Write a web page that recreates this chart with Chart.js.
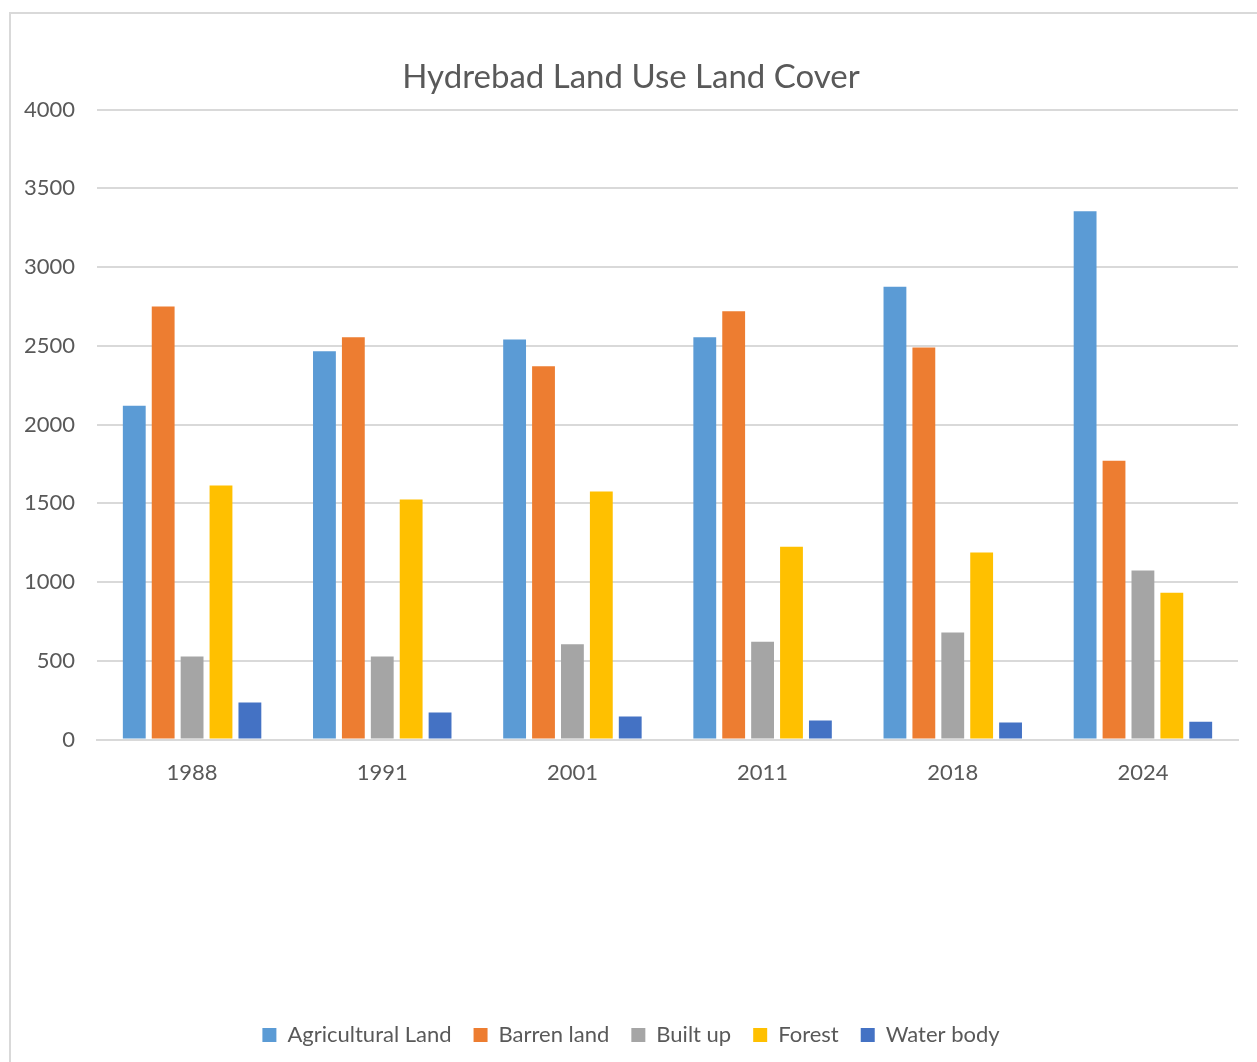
<!DOCTYPE html>
<html>
<head>
<meta charset="utf-8">
<script src="https://cdn.jsdelivr.net/npm/chart.js@4.4.1/dist/chart.umd.min.js"></script>
<style>
  body { margin: 0; background: #fff; }
  #frame {
    position: absolute; left: 9px; top: 12px;
    width: 1260px; height: 1060px;
    border: 2px solid #d9d9d9; box-sizing: border-box;
  }
  #wrap { position: absolute; left: 10px; top: 14px; width: 1247px; height: 1048px; }
</style>
</head>
<body>
<div id="frame"></div>
<div id="wrap"><canvas id="lulcChart"></canvas></div>
<script>
// Years (categories)
const years = ['1988', '1991', '2001', '2011', '2018', '2024'];

// Area per class
const agricultural = [2120, 2465, 2540, 2555, 2875, 3355];
const barren = [2750, 2555, 2370, 2720, 2490, 1770];
const builtUp = [527, 527, 605, 622, 680, 1073];
const forest = [1613, 1525, 1575, 1225, 1188, 933];
const water = [235, 172, 147, 122, 108, 114];

const seriesNames = ['Agricultural Land', 'Barren land', 'Built up', 'Forest', 'Water body'];
const seriesColors = ['#5B9BD5', '#ED7D31', '#A5A5A5', '#FFC000', '#4472C4'];
const seriesValues = [agricultural, barren, builtUp, forest, water];

const textColor = '#595959';
const fontFamily = 'Lato, "Open Sans", sans-serif';

const datasets = seriesNames.map((name, i) => ({
    label: name,
    data: seriesValues[i],
    backgroundColor: seriesColors[i],
    borderWidth: 0,
    categoryPercentage: 0.76,
    barPercentage: 0.79,
}));

const ctx = document.getElementById('lulcChart').getContext('2d');
new Chart(ctx, {
    type: 'bar',
    data: { labels: years, datasets: datasets },
    options: {
        responsive: true,
        maintainAspectRatio: false,
        animation: false,
        layout: { padding: { left: 14, right: 19, top: 0, bottom: 6 } },
        plugins: {
            title: {
                display: true,
                text: 'Hydrebad Land Use Land Cover',
                color: textColor,
                font: { family: fontFamily, size: 33, weight: 'normal' },
                padding: { top: 44, bottom: 12 },
            },
            legend: {
                position: 'bottom',
                labels: {
                    color: textColor,
                    font: { family: fontFamily, size: 22 },
                    boxWidth: 14,
                    boxHeight: 14,
                    padding: 22,
                },
            },
            tooltip: { enabled: false },
        },
        scales: {
            x: {
                grid: { display: false },
                border: { display: true, color: '#D9D9D9', width: 2 },
                ticks: {
                    color: textColor,
                    font: { family: fontFamily, size: 22 },
                    padding: 12,
                },
                afterFit(scale) { scale.height += 204; },
            },
            y: {
                min: 0,
                max: 4000,
                ticks: {
                    stepSize: 500,
                    color: textColor,
                    font: { family: fontFamily, size: 22 },
                    padding: 22,
                    callback: (value) => String(value),
                },
                grid: { color: '#D9D9D9', lineWidth: 2, drawTicks: false },
                border: { display: false },
                afterFit(scale) { scale.width = 73; },
            },
        },
    },
});
</script>
</body>
</html>
